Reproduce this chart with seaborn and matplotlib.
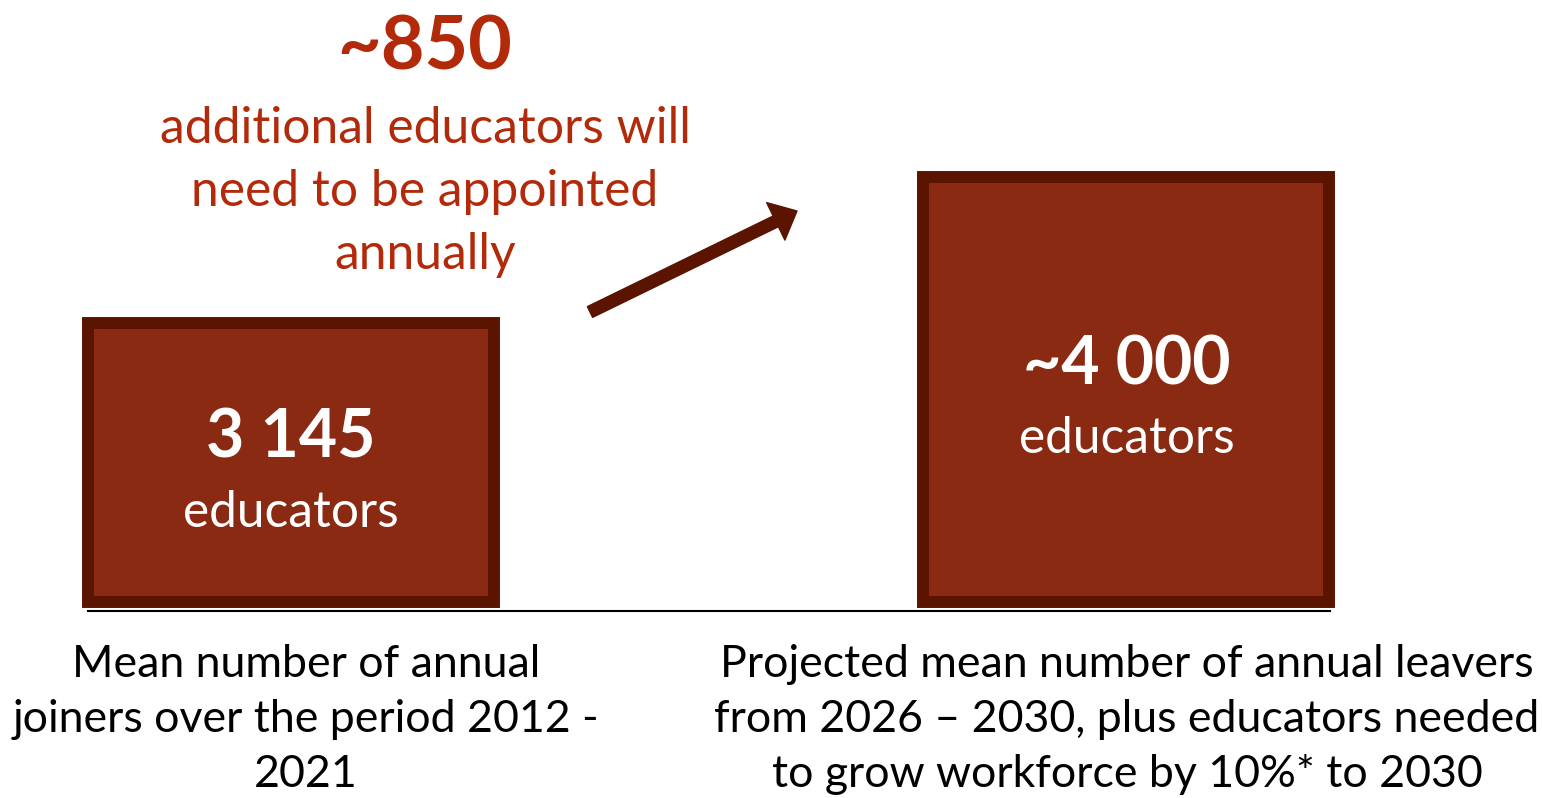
import matplotlib
matplotlib.use("Agg")
import matplotlib.pyplot as plt
from matplotlib.patches import FancyArrowPatch
import seaborn as sns
import pandas as pd

# Annual educator supply vs. projected demand
categories = ["joiners_2012_2021", "need_2026_2030"]
values = [3145, 4000]
approx = [False, True]
baseline = 1500
unit_label = "educators"
category_labels = [
    "Mean number of annual\njoiners over the period 2012 -\n2021",
    "Projected mean number of annual leavers\nfrom 2026 \u2013 2030, plus educators needed\nto grow workforce by 10%* to 2030",
]
headline_value = "~850"
headline_lines = ["additional educators will", "need to be appointed", "annually"]

FILL = "#8B2A12"
EDGE = "#5A1400"
RED = "#B22A0A"

sns.set_theme(style="white")
plt.rcParams["font.family"] = ["Lato", "DejaVu Sans"]

W, H = 1542, 798
fig = plt.figure(figsize=(W / 100, H / 100), dpi=100)
ax = fig.add_axes([88 / W, 1 - 611 / H, (1330 - 88) / W, 611 / H])

df = pd.DataFrame({"category": categories, "value": values})
sns.barplot(data=df, x="category", y="value", ax=ax, color=FILL,
            saturation=1, width=0.486, edgecolor=EDGE, linewidth=8.6,
            errorbar=None)

# bars rise from the common baseline rather than from zero
for patch, v in zip(ax.patches, values):
    patch.set_y(baseline)
    patch.set_height(v - baseline)
    patch.set_joinstyle("miter")
    patch.set_clip_on(False)

ax.set_xlim(-0.243, 1.2436)
ax.set_ylim(1447, 5045)
ax.set_xticks([])
ax.set_yticks([])
ax.set_xlabel("")
ax.set_ylabel("")
for side in ["top", "left", "right"]:
    ax.spines[side].set_visible(False)
ax.spines["bottom"].set_color("black")
ax.spines["bottom"].set_linewidth(1.5)
ax.spines["bottom"].set_zorder(5)


def put(x, y, s, **kw):
    fig.text(x / W, 1 - y / H, s, ha="center", va="baseline", **kw)


# value labels inside the boxes
box_value_y = [458, 385]
box_unit_y = [527, 453]
for i, (v, a) in enumerate(zip(values, approx)):
    cx = ax.transData.transform((i, 0))[0]
    txt = ("~" if a else "") + f"{v:,}".replace(",", " ")
    put(cx, box_value_y[i], txt, color="white", fontsize=47.6, fontweight="bold")
    put(cx, box_unit_y[i], unit_label, color="white", fontsize=35.7)

# category descriptions below the baseline
label_x = [306, 1127]
for x, lab in zip(label_x, category_labels):
    for j, line in enumerate(lab.split("\n")):
        put(x, 677 + 55 * j, line, color="black", fontsize=32.1)

# headline above the first box
put(425, 70, headline_value, color=RED, fontsize=54.3, fontweight="bold")
for j, line in enumerate(headline_lines):
    put(425, 143 + 63 * j, line, color=RED, fontsize=35.8)

arrow = FancyArrowPatch((590 / W, 1 - 312 / H), (797 / W, 1 - 211 / H),
                        transform=fig.transFigure,
                        arrowstyle="simple,head_length=1.7,head_width=3.0,tail_width=0.86",
                        mutation_scale=10, color=EDGE, shrinkA=0, shrinkB=0)
fig.patches.append(arrow)

fig.savefig("out.png", dpi=100, facecolor="white")
